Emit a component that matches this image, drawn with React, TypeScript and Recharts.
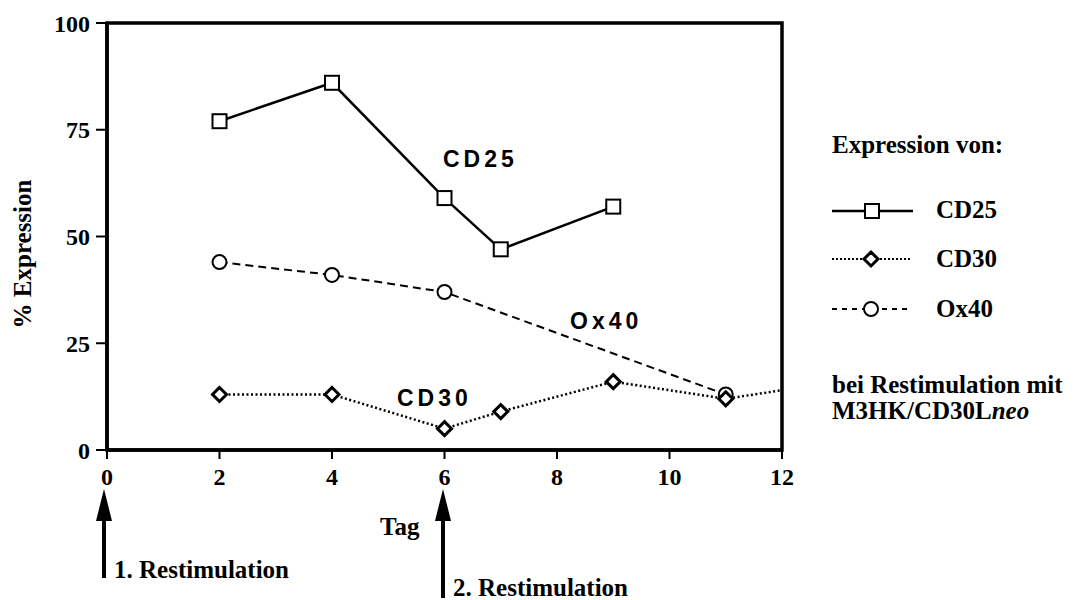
import React from 'react';
import { LineChart, Line, XAxis, YAxis, ReferenceArea } from 'recharts';

// days (Tag) and % expression per marker
const cd25Days = [2, 4, 6, 7, 9];
const cd25Values = [77, 86, 59, 47, 57];

const cd30Days = [2, 4, 6, 7, 9, 11, 12];
const cd30Values = [13, 13, 5, 9, 16, 12, 14];

const ox40Days = [2, 4, 6, 11];
const ox40Values = [44, 41, 37, 13];

const xTicks = [0, 2, 4, 6, 8, 10, 12];
const yTicks = [0, 25, 50, 75, 100];

const toRows = (days: number[], values: number[]) =>
  days.map((d, i) => ({ day: d, value: values[i] }));

const cd25Data = toRows(cd25Days, cd25Values);
const cd30Data = toRows(cd30Days, cd30Values);
const ox40Data = toRows(ox40Days, ox40Values);

const SERIF = "'Liberation Serif', 'Times New Roman', serif";
const SANS = "'Liberation Sans', Arial, sans-serif";

const tickStyle = { fontFamily: SERIF, fontSize: 24, fontWeight: 700, fill: '#000' };

function Square({ cx, cy }: { cx: number; cy: number }) {
  return <rect x={cx - 7} y={cy - 7} width={14} height={14} fill="#fff" stroke="#000" strokeWidth={2} />;
}

function Diamond({ cx, cy }: { cx: number; cy: number }) {
  const r = 7;
  return (
    <polygon
      points={`${cx},${cy - r} ${cx + r},${cy} ${cx},${cy + r} ${cx - r},${cy}`}
      fill="#fff"
      stroke="#000"
      strokeWidth={3}
    />
  );
}

function Circle({ cx, cy }: { cx: number; cy: number }) {
  return <circle cx={cx} cy={cy} r={7} fill="#fff" stroke="#000" strokeWidth={2} />;
}

const squareDot = (p: any) => <Square key={p.index} cx={p.cx} cy={p.cy} />;
// last CD30 point only continues the line to the frame, no marker
const diamondDot = (p: any) =>
  p.payload.day >= 12 ? <g key={p.index} /> : <Diamond key={p.index} cx={p.cx} cy={p.cy} />;
const circleDot = (p: any) => <Circle key={p.index} cx={p.cx} cy={p.cy} />;

function Arrow({ x, top, bottom }: { x: number; top: number; bottom: number }) {
  return (
    <g>
      <line x1={x} y1={top + 25} x2={x} y2={bottom} stroke="#000" strokeWidth={4} />
      <polygon points={`${x},${top} ${x + 8},${top + 32} ${x - 8},${top + 32}`} fill="#000" />
    </g>
  );
}

function Annotations() {
  const serifText = { fontFamily: SERIF, fontWeight: 700, fontSize: 25, fill: '#000' };
  const sansText = { fontFamily: SANS, fontWeight: 700, fontSize: 23, fill: '#000', letterSpacing: 4 };
  return (
    <svg
      width={1074}
      height={600}
      style={{ position: 'absolute', left: 0, top: 0, pointerEvents: 'none' }}
    >
      {/* y axis title */}
      <text transform="translate(31,254) rotate(-90)" textAnchor="middle" style={serifText}>
        % Expression
      </text>

      {/* in-plot series labels */}
      <text x={443} y={167} style={sansText}>CD25</text>
      <text x={570} y={329} style={sansText}>Ox40</text>
      <text x={397} y={406} style={sansText}>CD30</text>

      {/* x axis title and restimulation arrows */}
      <text x={380} y={535} style={serifText}>Tag</text>
      <Arrow x={104} top={489} bottom={578} />
      <text x={114} y={578} style={serifText}>1. Restimulation</text>
      <Arrow x={443} top={489} bottom={598} />
      <text x={453} y={596} style={serifText}>2. Restimulation</text>

      {/* legend */}
      <text x={832} y={153} style={serifText}>Expression von:</text>

      <line x1={832} y1={211} x2={913} y2={211} stroke="#000" strokeWidth={2.5} />
      <Square cx={872} cy={211} />
      <text x={936} y={218} style={serifText}>CD25</text>

      <line x1={832} y1={259} x2={910} y2={259} stroke="#000" strokeWidth={2} strokeDasharray="2 2" />
      <Diamond cx={871} cy={259} />
      <text x={936} y={267} style={serifText}>CD30</text>

      <line x1={832} y1={309} x2={912} y2={309} stroke="#000" strokeWidth={2} strokeDasharray="5 5" />
      <Circle cx={871} cy={309} />
      <text x={936} y={317} style={serifText}>Ox40</text>

      <text x={832} y={393} style={serifText}>bei Restimulation mit</text>
      <text x={832} y={419} style={serifText}>
        M3HK/CD30L<tspan fontStyle="italic">neo</tspan>
      </text>
    </svg>
  );
}

export default function App() {
  return (
    <div style={{ position: 'absolute', left: 0, top: 0, width: 1074, height: 600, background: '#fff' }}>
      <LineChart width={1074} height={600} margin={{ top: 23, right: 292, bottom: 120, left: 47 }}>
        <XAxis
          dataKey="day"
          type="number"
          domain={[0, 12]}
          ticks={xTicks}
          allowDuplicatedCategory={false}
          height={30}
          stroke="#000"
          strokeWidth={3.5}
          tickSize={9}
          tickMargin={9}
          tickLine={{ stroke: '#000', strokeWidth: 2 }}
          tick={tickStyle}
          interval={0}
        />
        <YAxis
          type="number"
          domain={[0, 100]}
          ticks={yTicks}
          width={60}
          stroke="#000"
          strokeWidth={3.5}
          tickSize={11}
          tickMargin={6}
          tickLine={{ stroke: '#000', strokeWidth: 2 }}
          tick={tickStyle}
          interval={0}
        />
        <ReferenceArea
          x1={0}
          x2={12}
          y1={0}
          y2={100}
          fill="none"
          fillOpacity={0}
          stroke="#000"
          strokeWidth={3.5}
          ifOverflow="visible"
        />
        <Line
          data={ox40Data}
          dataKey="value"
          type="linear"
          stroke="#000"
          strokeWidth={2}
          strokeDasharray="8 5"
          dot={circleDot}
          activeDot={false}
          isAnimationActive={false}
        />
        <Line
          data={cd30Data}
          dataKey="value"
          type="linear"
          stroke="#000"
          strokeWidth={2.5}
          strokeDasharray="2 2.5"
          dot={diamondDot}
          activeDot={false}
          isAnimationActive={false}
        />
        <Line
          data={cd25Data}
          dataKey="value"
          type="linear"
          stroke="#000"
          strokeWidth={2.5}
          dot={squareDot}
          activeDot={false}
          isAnimationActive={false}
        />
      </LineChart>
      <Annotations />
    </div>
  );
}
